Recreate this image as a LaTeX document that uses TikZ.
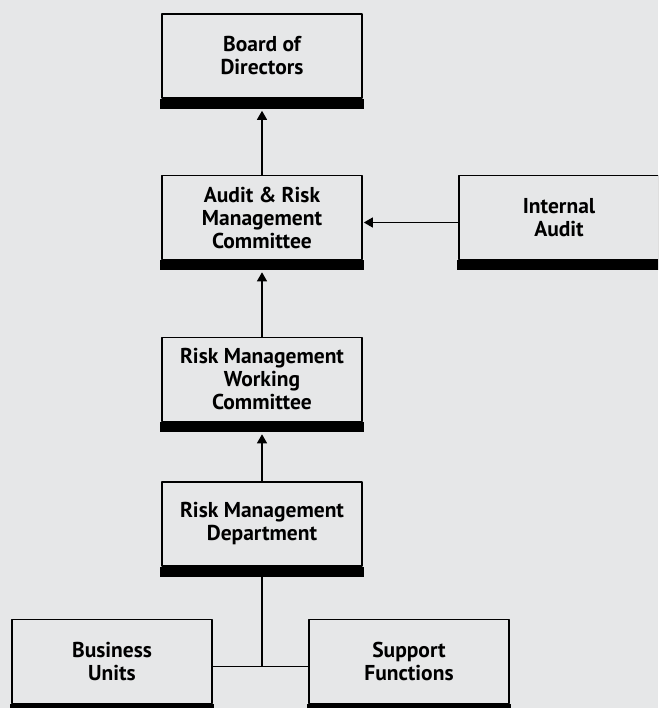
\documentclass[tikz,border=0pt]{standalone}
\usepackage{fontspec}
\setmainfont{PT Sans}
\usetikzlibrary{arrows.meta,positioning}
\definecolor{bggray}{HTML}{E6E7E8}
\begin{document}
\begin{tikzpicture}[x=1pt, y=-1pt, line join=round, >={Triangle[width=10pt,length=9pt]},
	box/.style={draw, line width=1.6pt, minimum width=200pt, minimum height=84pt, align=center, font=\bfseries\fontsize{21.5}{23}\selectfont},
	link/.style={line width=1.2pt}]
	\fill[bggray] (0,0) rectangle (658,708);
	\useasboundingbox (0,0) rectangle (658,708);
	\clip (0,0) rectangle (658,708);
	\node[box] (board) at (262,56) {Board of\\Directors};
	\node[box] (arc) at (262,217.5) {Audit \& Risk\\Management\\Committee};
	\node[box] (ia) at (559,217.5) {Internal\\Audit};
	\node[box] (rmwc) at (262,379.5) {Risk Management\\Working\\Committee};
	\node[box] (rmd) at (262,524) {Risk Management\\Department};
	\node[box] (bu) at (112,661.5) {Business\\Units};
	\node[box] (sf) at (409,661.5) {Support\\Functions};
	% thick bars under the boxes
	\foreach \n in {board,arc,ia,rmwc,rmd,bu,sf}
		\fill ([xshift=-.8pt]\n.south west) rectangle ([xshift=.8pt,yshift=-10pt]\n.south east);
	\draw[link,->] (arc.north) -- ([yshift=-12pt]board.south);
	\draw[link,->] (rmwc.north) -- ([yshift=-12pt]arc.south);
	\draw[link,->] (rmd.north) -- ([yshift=-12pt]rmwc.south);
	\draw[link,->] ([yshift=-5pt]ia.west) -- ([yshift=-5pt,xshift=1pt]arc.east);
	\draw[link] ([yshift=-10pt]rmd.south) |- ([yshift=-5pt]bu.east);
	\draw[link] ([yshift=-10pt]rmd.south) |- ([yshift=-5pt]sf.west);
\end{tikzpicture}
\end{document}
